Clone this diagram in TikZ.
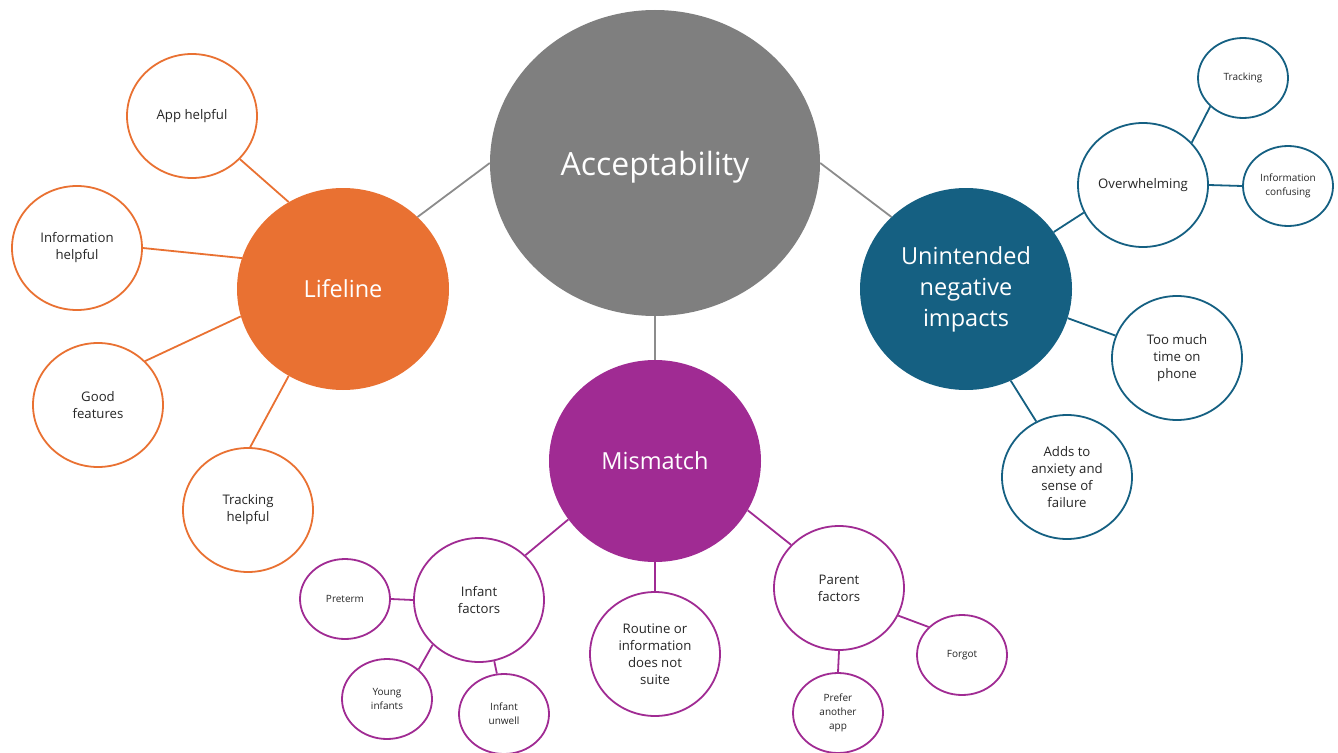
\documentclass[tikz,border=0pt]{standalone}
\usepackage{fontspec}
\setmainfont{Open Sans}
\usetikzlibrary{shapes.geometric}
\definecolor{grey}{HTML}{7F7F7F}
\definecolor{greyline}{HTML}{8C8C8C}
\definecolor{orange}{HTML}{E97132}
\definecolor{teal}{HTML}{156082}
\definecolor{purple}{HTML}{A02B93}
\definecolor{ink}{HTML}{262626}
\tikzset{
  bubble/.style={ellipse,inner sep=0pt,align=center},
  hub/.style={bubble,minimum width=212pt,minimum height=202pt,text=white,
              font=\fontsize{23.5}{31}\selectfont},
  leaf/.style={bubble,draw=#1,line width=1.8pt,fill=white,minimum width=130pt,
               minimum height=124pt,text=ink,font=\fontsize{13.2}{17}\selectfont},
  twig/.style={bubble,draw=#1,line width=1.8pt,fill=white,minimum width=90pt,
               minimum height=80pt,text=ink,font=\fontsize{10}{14}\selectfont},
  link/.style={draw=#1,line width=1.8pt},
}

\begin{document}
\begin{tikzpicture}[x=1pt,y=-1pt]
  \useasboundingbox (0,0) rectangle (1338,752);
  % centre and the three themes
  \node[bubble,fill=grey,minimum width=330pt,minimum height=306pt,text=white,
        text depth=0pt,font=\fontsize{32}{38}\selectfont] (accept) at (655,163) {Acceptability};
  \node[hub,fill=orange] (lifeline) at (343,289) {Lifeline};
  \node[hub,fill=teal] (impacts) at (966,289) {Unintended\\negative\\impacts};
  \node[hub,fill=purple] (mismatch) at (655,461) {Mismatch};
  \draw[link=greyline] (accept.west) -- (lifeline.44);
  \draw[link=greyline] (accept.east) -- (impacts.136);
  \draw[link=greyline] (accept.south) -- (mismatch.north);

  % lifeline
  \node[leaf=orange] (app) at (192,116) {App helpful};
  \node[leaf=orange] (info) at (77,248) {Information\\helpful};
  \node[leaf=orange] (good) at (98,405) {Good\\features};
  \node[leaf=orange] (track) at (248,510) {Tracking\\helpful};
  \draw[link=orange] (app.-42) -- (lifeline.122);
  \draw[link=orange] (info.east) -- (lifeline.163);
  \draw[link=orange] (good.43) -- (lifeline.195);
  \draw[link=orange] (track.88) -- (lifeline.238);

  % unintended negative impacts
  \node[leaf=teal] (overwhelm) at (1143,185) {Overwhelming};
  \node[twig=teal] (tracking) at (1243,78) {Tracking};
  \node[twig=teal] (confusing) at (1288,186) {Information\\confusing};
  \node[leaf=teal] (phone) at (1177,358) {Too much\\time on\\phone};
  \node[leaf=teal] (anxiety) at (1067,477) {Adds to\\anxiety and\\sense of\\failure};
  \draw[link=teal] (overwhelm.205) -- (impacts.33);
  \draw[link=teal] (overwhelm.41) -- (tracking.221);
  \draw[link=teal] (overwhelm.east) -- (confusing.west);
  \draw[link=teal] (impacts.-16) -- (phone.160);
  \draw[link=teal] (impacts.-64) -- (anxiety.119);

  % mismatch
  \node[leaf=purple] (infant) at (479,600) {Infant\\factors};
  \node[twig=purple] (preterm) at (345,599) {Preterm};
  \node[twig=purple] (young) at (387,699) {Young\\infants};
  \node[twig=purple] (unwell) at (504,714) {Infant\\unwell};
  \node[leaf=purple] (routine) at (655,654) {Routine or\\information\\does not\\suite};
  \node[leaf=purple] (parent) at (839,588) {Parent\\factors};
  \node[twig=purple] (forgot) at (962,655) {Forgot};
  \node[twig=purple] (prefer) at (838,713) {Prefer\\another\\app};
  \draw[link=purple] (mismatch.214) -- (infant.44);
  \draw[link=purple] (mismatch.south) -- (routine.north);
  \draw[link=purple] (mismatch.-28) -- (parent.138);
  \draw[link=purple] (preterm.east) -- (infant.west);
  \draw[link=purple] (infant.224) -- (young.43);
  \draw[link=purple] (infant.-76) -- (unwell.100);
  \draw[link=purple] (parent.south) -- (prefer.north);
  \draw[link=purple] (parent.-25) -- (forgot.140);
\end{tikzpicture}
\end{document}
